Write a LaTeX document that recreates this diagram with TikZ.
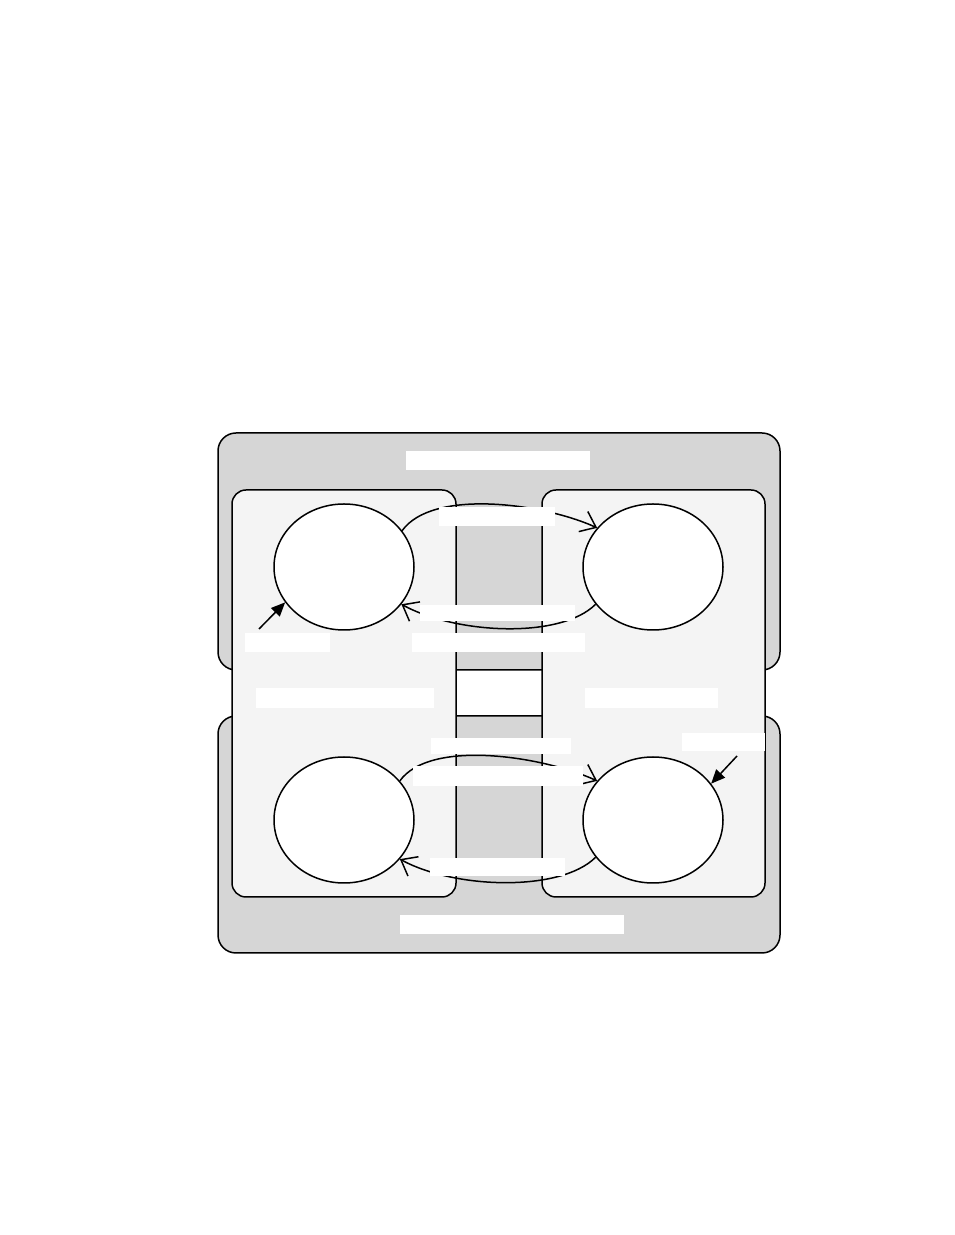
\documentclass[tikz,border=0pt]{standalone}
\usetikzlibrary{arrows.meta,shapes.geometric}
\begin{document}
\begin{tikzpicture}[x=1pt,y=1pt,line width=1.5pt,
  state/.style={ellipse,draw,fill=white,inner sep=0pt,minimum width=140pt,minimum height=126pt},
  region/.style={draw,rounded corners=14pt,fill=gray!9},
  superstate/.style={draw,rounded corners=18pt,fill=gray!32},
  lbl/.style={fill=white,inner sep=0pt},
  trans/.style={-{Straight Barb[length=14pt,width=22pt]}},
  init/.style={-{Triangle[length=14pt,width=12pt]}}]
\useasboundingbox (0,0) rectangle (954,1235);
% outer states
\draw[superstate] (218,565) rectangle (780,802);
\draw[superstate] (218,282) rectangle (780,519);
% regions
\draw[region] (232,338) rectangle (456,745);
\draw[region] (542,338) rectangle (765,745);
% states
\node[state] (s1) at (344,668) {};
\node[state] (s2) at (653,668) {};
\node[state] (s3) at (344,415) {};
\node[state] (s4) at (653,415) {};
% transitions
\draw[trans] (s1.32) .. controls +(30,42) and +(-55,25) .. (s2.145);
\draw[trans] (s2.213) .. controls +(-35,-35) and +(55,-30) .. (s1.-33);
\draw[trans] (s3.35) .. controls +(30,42) and +(-55,25) .. (s4.145);
\draw[trans] (s4.213) .. controls +(-35,-35) and +(55,-30) .. (s3.-35);
% initial
\coordinate (i1) at (259,606);
\coordinate (i4) at (737,479);
\draw[init] (i1) -- (s1.211);
\draw[init] (i4) -- (s4.32);
% labels
\node[lbl,minimum width=184pt,minimum height=19pt] (ltop) at (498,774.5) {};
\node[lbl,minimum width=116pt,minimum height=19pt] (lfwd1) at (497,718.5) {};
\node[lbl,minimum width=155pt,minimum height=16pt] (lrev1) at (497.5,622) {};
\node[lbl,minimum width=85pt,minimum height=19pt] (linit1) at (287.5,592.5) {};
\node[lbl,minimum width=173pt,minimum height=19pt] (lmid) at (498.5,592.5) {};
\node[lbl,minimum width=178pt,minimum height=20pt] (lleft) at (344.5,537) {};
\node[lbl,minimum width=133pt,minimum height=20pt] (lright) at (651.5,537) {};
\node[lbl,minimum width=140pt,minimum height=16pt] (lfwd2a) at (501,489) {};
\node[lbl,minimum width=83pt,minimum height=18pt] (linit4) at (723.5,493) {};
\node[lbl,minimum width=170pt,minimum height=20pt] (lfwd2b) at (498,459) {};
\node[lbl,minimum width=135pt,minimum height=18pt] (lrev2) at (497.5,368) {};
\node[lbl,minimum width=224pt,minimum height=19pt] (lbot) at (512,310.5) {};
\end{tikzpicture}
\end{document}
